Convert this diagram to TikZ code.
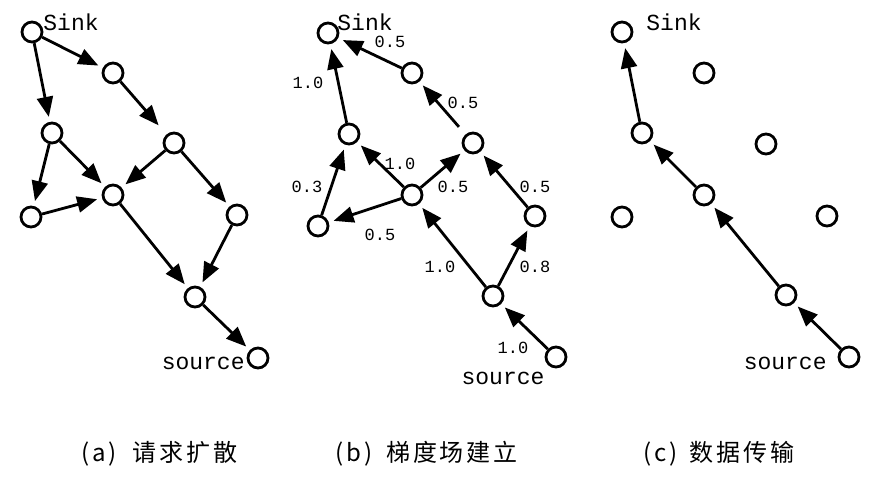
\documentclass[tikz,border=0pt]{standalone}
\usepackage{fontspec}
\setmonofont{Liberation Mono}
\newfontfamily\cjk[LetterSpace=12]{Noto Sans CJK SC}
\usetikzlibrary{arrows.meta}

\begin{document}
\begin{tikzpicture}[x=1pt, y=-1pt, >={Triangle[length=20pt,width=16pt]}, line width=2.8pt]
    \tikzset{
        dot/.style={circle, draw, line width=2.8pt, minimum size=20pt, inner sep=0pt},
        flow/.style={->, shorten >=5pt},
        lbl/.style={font=\ttfamily\fontsize{23}{23}\selectfont, inner sep=0pt},
        wt/.style={font=\ttfamily\fontsize{17}{17}\selectfont, inner sep=0pt},
        subcap/.style={font=\cjk\fontsize{24}{24}\selectfont, inner sep=0pt}
    }
    \useasboundingbox (0,0) rectangle (880,482);

    % (a) request diffusion
    \foreach \n/\x/\y in {s/32/32, 2/113/73, 3/52/133, 4/174/143, 5/113/195,
                          6/31/217, 7/237/215, 8/195/297, t/258/358}
        \node[dot] (a\n) at (\x,\y) {};
    \foreach \u/\v in {s/2, s/3, 3/6, 3/5, 4/5, 4/7, 6/5, 5/8, 7/8, 8/t}
        \draw[flow] (a\u) -- (a\v);
    \draw[flow, shorten >=12pt] (a2) -- (a4);
    \node[lbl, anchor=west] (asink) at (42,22) {Sink};
    \node[lbl, anchor=east] (asrc) at (246,363) {source};

    % (b) gradient setup
    \foreach \n/\x/\y in {s/328/33, 2/412/73, 3/349/134, 4/473/143, 5/412/195,
                          6/318/226, 7/535/216, 8/493/296, t/556/357}
        \node[dot] (b\n) at (\x,\y) {};
    \foreach \u/\v in {2/s, 3/s, 6/3, 5/3, 5/4, 5/6, 8/5, 8/7, 7/4, t/8}
        \draw[flow] (b\u) -- (b\v);
    \draw[flow, shorten <=10pt] (b4) -- (b2);
    \node[lbl, anchor=west] (bsink) at (336,22) {Sink};
    \node[lbl] (bsrc) at (503,378) {source};

    % weights
    \node[wt] (w1) at (390,42) {0.5};
    \node[wt] (w2) at (308,83) {1.0};
    \node[wt] (w3) at (463,103) {0.5};
    \node[wt] (w4) at (400,164) {1.0};
    \node[wt] (w5) at (307,187) {0.3};
    \node[wt] (w6) at (453,187) {0.5};
    \node[wt] (w7) at (535,187) {0.5};
    \node[wt] (w8) at (380,235) {0.5};
    \node[wt] (w9) at (440,267) {1.0};
    \node[wt] (w10) at (535,267) {0.8};
    \node[wt] (w11) at (513,348) {1.0};

    % (c) data delivery
    \foreach \n/\x/\y in {s/622/32, 2/704/73, 3/642/133, 4/766/144, 5/704/195,
                          6/622/217, 7/827/216, 8/786/295, t/849/357}
        \node[dot] (c\n) at (\x,\y) {};
    \foreach \u/\v in {t/8, 8/5, 5/3, 3/s}
        \draw[flow] (c\u) -- (c\v);
    \node[lbl, anchor=west] (csink) at (645,22) {Sink};
    \node[lbl, anchor=east] (csrc) at (828,363) {source};

    % captions
    \node[subcap, anchor=west] (capa) at (80,454) {(a)\hspace{16pt}请求扩散};
    \node[subcap, anchor=west] (capb) at (334,454) {(b)\hspace{14pt}梯度场建立};
    \node[subcap, anchor=west] (capc) at (642,454) {(c)\hspace{12pt}数据传输};
\end{tikzpicture}
\end{document}
